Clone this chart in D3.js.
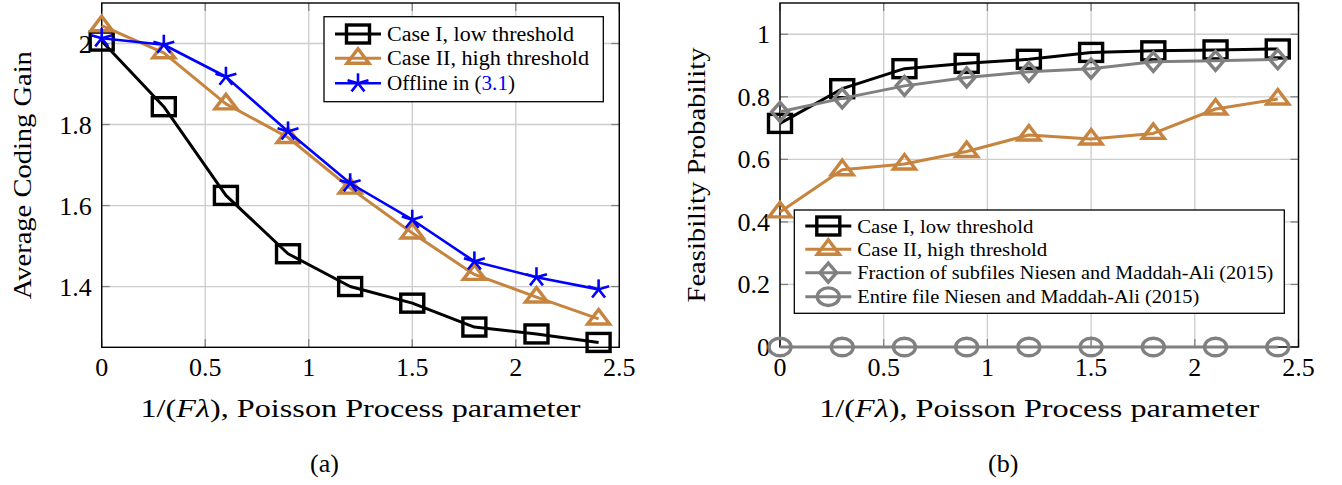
<!DOCTYPE html>
<html>
<head>
<meta charset="utf-8">
<script src="https://cdn.jsdelivr.net/npm/d3@7"></script>
<style>
  body { margin: 0; background: #fff; }
  text { font-family: "Liberation Serif", "Times New Roman", serif; fill: #000; }
</style>
</head>
<body>
<script>
    // data
    var xVals = [0, 0.3, 0.6, 0.9, 1.2, 1.5, 1.8, 2.1, 2.4];
    var xTicks = [0, 0.5, 1, 1.5, 2, 2.5];
    var xTickLabels = ["0", "0.5", "1", "1.5", "2", "2.5"];

    // (a) average coding gain
    var gainCaseI = [2.006, 1.844, 1.625, 1.481, 1.400, 1.359, 1.300, 1.283, 1.262];
    var gainCaseII = [2.044, 1.977, 1.851, 1.768, 1.643, 1.532, 1.430, 1.374, 1.320];
    var gainOffline = [2.013, 1.997, 1.918, 1.783, 1.655, 1.565, 1.462, 1.423, 1.393];
    var gainTicks = [1.4, 1.6, 1.8, 2];
    var gainTickLabels = ["1.4", "1.6", "1.8", "2"];

    // (b) feasibility probability
    var feasCaseI = [0.715, 0.826, 0.890, 0.907, 0.920, 0.942, 0.947, 0.950, 0.953];
    var feasCaseII = [0.432, 0.567, 0.585, 0.625, 0.678, 0.665, 0.683, 0.761, 0.793];
    var feasSubfiles = [0.752, 0.795, 0.835, 0.862, 0.880, 0.890, 0.912, 0.915, 0.920];
    var feasEntire = [0, 0, 0, 0, 0, 0, 0, 0, 0];
    var feasTicks = [0, 0.2, 0.4, 0.6, 0.8, 1];
    var feasTickLabels = ["0", "0.2", "0.4", "0.6", "0.8", "1"];

    var ORANGE = "#c7843e", GRAY = "#808080", BLUE = "#0000ff";

    var svg = d3.select("body").append("svg")
        .attr("width", 1342).attr("height", 485);

    // marker shapes (the picture is a little wider than tall)
    function drawMarker(g, kind, color) {
        var m = g.append("g").attr("fill", "none").attr("stroke", color)
            .attr("stroke-width", 3.4).attr("stroke-linejoin", "miter");
        if (kind == "square") {
            m.append("rect").attr("x", -11.5).attr("y", -9).attr("width", 23).attr("height", 18)
                .attr("fill", "none");
        } else if (kind == "triangle") {
            m.append("path").attr("d", "M0,-9.5L11,5L-11,5Z").attr("fill", "none");
        } else if (kind == "diamond") {
            m.append("path").attr("d", "M0,-9.5L8.3,0L0,9.5L-8.3,0Z").attr("fill", "none");
        } else if (kind == "circle") {
            m.append("ellipse").attr("rx", 11).attr("ry", 8.8).attr("fill", "none");
        } else if (kind == "star") {
            m.attr("stroke-width", 2.6);
            for (var k = 0; k < 5; k++) {
                var a = -Math.PI / 2 + k * 2 * Math.PI / 5;
                m.append("line").attr("x1", 0).attr("y1", 0)
                    .attr("x2", 11 * Math.cos(a)).attr("y2", 10 * Math.sin(a));
            }
        }
    }

    function makePanel(opt) {
        var x = d3.scaleLinear().domain([0, 2.5]).range([opt.left, opt.right]);
        var y = d3.scaleLinear().domain(opt.yDomain).range([opt.bottom, opt.top]);
        var g = svg.append("g");

        // grid
        g.selectAll(".gx").data(xTicks).enter().append("line")
            .attr("x1", d => x(d)).attr("x2", d => x(d))
            .attr("y1", opt.top).attr("y2", opt.bottom)
            .attr("stroke", "#cccccc").attr("stroke-width", 1.3);
        g.selectAll(".gy").data(opt.yTicks).enter().append("line")
            .attr("x1", opt.left).attr("x2", opt.right)
            .attr("y1", d => y(d)).attr("y2", d => y(d))
            .attr("stroke", "#cccccc").attr("stroke-width", 1.3);

        // small inner tick marks on all four sides
        var tl = 8;
        xTicks.forEach(function (d) {
            g.append("line").attr("x1", x(d)).attr("x2", x(d)).attr("y1", opt.bottom).attr("y2", opt.bottom - tl)
                .attr("stroke", "#808080").attr("stroke-width", 1.3);
            g.append("line").attr("x1", x(d)).attr("x2", x(d)).attr("y1", opt.top).attr("y2", opt.top + tl)
                .attr("stroke", "#808080").attr("stroke-width", 1.3);
        });
        opt.yTicks.forEach(function (d) {
            g.append("line").attr("x1", opt.left).attr("x2", opt.left + tl).attr("y1", y(d)).attr("y2", y(d))
                .attr("stroke", "#808080").attr("stroke-width", 1.3);
            g.append("line").attr("x1", opt.right).attr("x2", opt.right - tl).attr("y1", y(d)).attr("y2", y(d))
                .attr("stroke", "#808080").attr("stroke-width", 1.3);
        });

        // frame
        g.append("rect").attr("x", opt.left).attr("y", opt.top)
            .attr("width", opt.right - opt.left).attr("height", opt.bottom - opt.top)
            .attr("fill", "none").attr("stroke", "#000").attr("stroke-width", 1.4);

        // tick labels
        g.selectAll(".tx").data(xTicks).enter().append("text")
            .attr("x", d => x(d)).attr("y", opt.bottom + 29)
            .attr("text-anchor", "middle").attr("font-size", 26)
            .text((d, i) => xTickLabels[i]);
        g.selectAll(".ty").data(opt.yTicks).enter().append("text")
            .attr("x", opt.left - 10).attr("y", d => y(d) + 9)
            .attr("text-anchor", "end").attr("font-size", 26)
            .text((d, i) => opt.yTickLabels[i]);

        // series
        var line = d3.line().x(d => x(d[0])).y(d => y(d[1]));
        opt.series.forEach(function (s) {
            var pts = xVals.map((v, i) => [v, s.values[i]]);
            g.append("path").datum(pts).attr("d", line)
                .attr("fill", "none").attr("stroke", s.color).attr("stroke-width", s.width || 3)
                .attr("stroke-linejoin", "round");
            pts.forEach(function (p) {
                drawMarker(g.append("g").attr("transform", "translate(" + x(p[0]) + "," + y(p[1]) + ")"),
                    s.marker, s.color);
            });
        });

        // axis labels
        var xl = g.append("text").attr("x", (opt.left + opt.right) / 2).attr("y", opt.bottom + 70)
            .attr("text-anchor", "middle").attr("font-size", 26)
            .attr("textLength", 440).attr("lengthAdjust", "spacingAndGlyphs");
        xl.append("tspan").text("1/(");
        xl.append("tspan").attr("font-style", "italic").text("Fλ");
        xl.append("tspan").text("), Poisson Process parameter");

        g.append("text").attr("transform", "translate(" + opt.yLabelX + "," + ((opt.top + opt.bottom) / 2) + ") rotate(-90)")
            .attr("text-anchor", "middle").attr("font-size", 26)
            .attr("textLength", opt.yLabelLen).attr("lengthAdjust", "spacingAndGlyphs")
            .text(opt.yLabel);

        g.append("text").attr("x", (opt.left + opt.right) / 2 - 36).attr("y", 472)
            .attr("text-anchor", "middle").attr("font-size", 26).text(opt.caption);

        // legend
        var L = opt.legend;
        g.append("rect").attr("x", L.x0).attr("y", L.y0).attr("width", L.x1 - L.x0).attr("height", L.y1 - L.y0)
            .attr("fill", "#fff").attr("stroke", "#000").attr("stroke-width", 1.3);
        opt.series.forEach(function (s, i) {
            var ry = L.rows[i];
            g.append("line").attr("x1", L.x0 + 11).attr("x2", L.x0 + 57).attr("y1", ry).attr("y2", ry)
                .attr("stroke", s.color).attr("stroke-width", s.width || 3);
            drawMarker(g.append("g").attr("transform", "translate(" + (L.x0 + 34) + "," + ry + ")"), s.marker, s.color);
            var t = g.append("text").attr("x", L.x0 + 63).attr("y", ry + 6.5).attr("font-size", L.fontSize)
                .attr("textLength", L.lengths[i]).attr("lengthAdjust", "spacingAndGlyphs");
            s.label.forEach(function (part) {
                t.append("tspan").attr("fill", part.color || "#000").text(part.text);
            });
        });
    }

    makePanel({
        left: 101.7, right: 619.3, top: 3, bottom: 347.3,
        yDomain: [1.25, 2.1], yTicks: gainTicks, yTickLabels: gainTickLabels,
        yLabel: "Average Coding Gain", yLabelX: 31, yLabelLen: 248, caption: "(a)",
        series: [
            { values: gainCaseI, color: "#000", marker: "square", width: 3, label: [{ text: "Case I, low threshold" }] },
            { values: gainCaseII, color: ORANGE, marker: "triangle", width: 3, label: [{ text: "Case II, high threshold" }] },
            { values: gainOffline, color: BLUE, marker: "star", width: 2.6,
              label: [{ text: "Offline in (" }, { text: "3.1", color: BLUE }, { text: ")" }] }
        ],
        legend: { x0: 324, x1: 603.3, y0: 16.7, y1: 101.7, rows: [34, 58.3, 83.3],
                  fontSize: 20, lengths: [187, 202, 128] }
    });

    makePanel({
        left: 780, right: 1298.5, top: 3, bottom: 347,
        yDomain: [0, 1.1], yTicks: feasTicks, yTickLabels: feasTickLabels,
        yLabel: "Feasibility Probability", yLabelX: 705, yLabelLen: 255, caption: "(b)",
        series: [
            { values: feasCaseI, color: "#000", marker: "square", width: 3, label: [{ text: "Case I, low threshold" }] },
            { values: feasCaseII, color: ORANGE, marker: "triangle", width: 3, label: [{ text: "Case II, high threshold" }] },
            { values: feasSubfiles, color: GRAY, marker: "diamond", width: 3,
              label: [{ text: "Fraction of subfiles Niesen and Maddah-Ali (2015)" }] },
            { values: feasEntire, color: GRAY, marker: "circle", width: 3,
              label: [{ text: "Entire file Niesen and Maddah-Ali (2015)" }] }
        ],
        legend: { x0: 794.3, x1: 1284.3, y0: 210, y1: 313.3, rows: [226, 249.3, 272.7, 296.7],
                  fontSize: 19.5, lengths: [176, 190, 416, 342] }
    });
</script>
</body>
</html>
